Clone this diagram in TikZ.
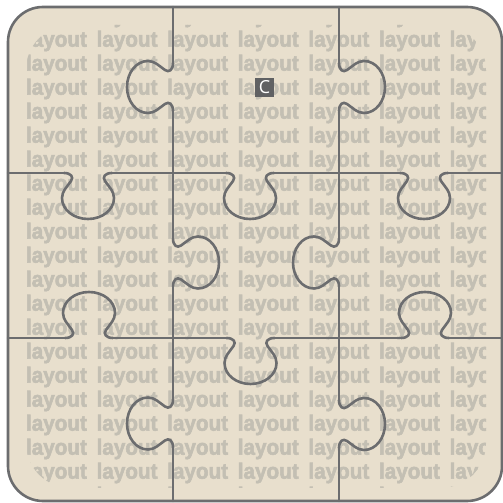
\documentclass[tikz,border=0pt]{standalone}
\usepackage{fontspec}
\setmainfont{Liberation Sans}
\newfontfamily\letrafont{Open Sans}
\newfontfamily\rellenofont[FakeStretch=0.94,FakeBold=2.4]{Liberation Sans Bold}
\definecolor{fondo}{RGB}{232,223,205}
\definecolor{gris}{RGB}{195,191,179}
\definecolor{linea}{RGB}{108,109,111}
\definecolor{caja}{RGB}{96,97,99}

\tikzset{
  corte/.style={draw=linea,line width=2.6pt,line cap=round,line join=round},
  palabra/.style={anchor=base west,inner sep=0pt,text=gris,font=\rellenofont\fontsize{22}{22}\selectfont},
  etiqueta/.style={fill=caja,text=white,minimum size=19pt,inner sep=0pt,font=\letrafont\fontsize{18}{18}\selectfont},
  pieza/.pic={
    \draw[corte] (-24,0) .. controls (-17,0) and (-14,4) .. (-17,8)
      .. controls (-21,14) and (-26,18) .. (-26,25)
      .. controls (-26,37) and (-14,46) .. (0,46)
      .. controls (14,46) and (26,37) .. (26,25)
      .. controls (26,18) and (21,14) .. (17,8)
      .. controls (14,4) and (17,0) .. (24,0);
  }
}

\begin{document}
\begin{tikzpicture}[x=1pt,y=1pt]
\useasboundingbox (0,0) rectangle (503,503);

% Fondo
\fill[fondo,rounded corners=35pt] (8,2) rectangle (502,496);

% Texto
\begin{scope}
  \clip[rounded corners=45pt] (26,15) rectangle (486,478);
  \foreach \k in {-1,...,19}
    \foreach \j in {0,...,6}
      \node[palabra] (t-\k-\j) at (25.8+70.6*\j,456.3-24*\k) {layout};
\end{scope}

% Cortes rectos
\draw[corte] (173,496) -- (173,440) (173,392) -- (173,264.5)
  (173,216.5) -- (173,103.5) (173,55.5) -- (173,2);
\draw[corte] (339,496) -- (339,440) (339,392) -- (339,264.5)
  (339,216.5) -- (339,103) (339,55) -- (339,2);
\draw[corte] (8,330) -- (64,330) (112,330) -- (226,330)
  (274,330) -- (400,330) (448,330) -- (502,330);
\draw[corte] (8,165) -- (65,165) (113,165) -- (226.5,165)
  (274.5,165) -- (401,165) (449,165) -- (502,165);

% Salientes
\foreach \x/\y/\r in {173/416/90, 173/240.5/-90, 173/79.5/90,
                      339/416/-90, 339/240.5/90, 339/79/-90,
                      88/330/180, 250/330/180, 424/330/180,
                      89/165/0, 250.5/165/180, 425/165/0}
  \pic[rotate=\r] at (\x,\y) {pieza};

% Etiqueta
\node[etiqueta] (c) at (264.5,415.5) {C};

% Borde
\draw[corte,rounded corners=35pt] (8,2) rectangle (502,496);

\end{tikzpicture}
\end{document}
